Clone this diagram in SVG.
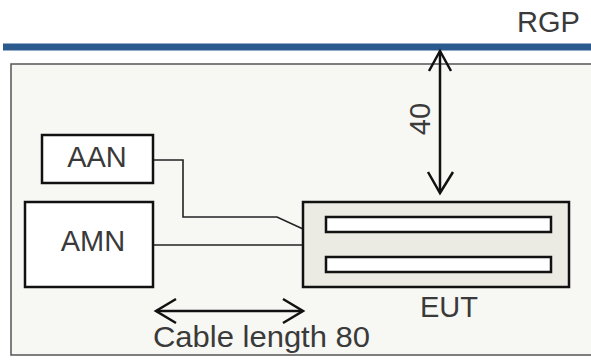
<svg xmlns="http://www.w3.org/2000/svg" width="591" height="360" viewBox="0 0 591 360">
<defs>
<style>
text{font-family:"Liberation Sans",Arial,sans-serif;font-size:29px;fill:#3a3a3a}
.box{fill:#ffffff;stroke:#111;stroke-width:2.5}
.wire{fill:none;stroke:#222;stroke-width:1.6}
.dim{fill:none;stroke:#111;stroke-width:2.5}
.head{fill:none;stroke:#111;stroke-width:2.5;stroke-linejoin:miter}
</style>
</defs>
<rect width="591" height="360" fill="#ffffff"/>
<g id="enclosure">
<rect x="11" y="64" width="600" height="291" fill="#f7f7f4" stroke="#555" stroke-width="1.5"/>
</g>
<g id="rgp">
<line x1="3" y1="47" x2="591" y2="47" stroke="#2b5a8f" stroke-width="7"/>
<text x="517" y="32">RGP</text>
</g>
<g id="connectors">
<polyline class="wire" points="153,160 183,160 183,217 277,217 303,229"/>
<line class="wire" x1="153" y1="245" x2="303" y2="245"/>
</g>
<g id="aan">
<rect class="box" x="42" y="135" width="111" height="48"/>
<text x="97" y="167" text-anchor="middle">AAN</text>
</g>
<g id="amn">
<rect class="box" x="25" y="202" width="128" height="85"/>
<text x="93" y="251" text-anchor="middle">AMN</text>
</g>
<g id="eut">
<rect x="303" y="202" width="266" height="85" fill="#ebebe3" stroke="#111" stroke-width="2.5"/>
<rect class="box" x="326" y="217" width="225" height="15"/>
<rect class="box" x="326" y="257" width="225" height="15"/>
<text x="449" y="317" text-anchor="middle">EUT</text>
</g>
<g id="dim-height">
<line class="dim" x1="440" y1="51" x2="440" y2="192"/>
<polyline class="head" points="429,71 440,51 451,71"/>
<polyline class="head" points="428,172 440,193 453,172"/>
<text transform="translate(430,119) rotate(-90)" text-anchor="middle">40</text>
</g>
<g id="dim-cable">
<line class="dim" x1="156" y1="311" x2="303" y2="311"/>
<polyline class="head" points="176,299 156,311 176,323"/>
<polyline class="head" points="283,299 303,311 283,323"/>
<text x="153" y="347" textLength="217" lengthAdjust="spacingAndGlyphs">Cable length 80</text>
</g>
</svg>
